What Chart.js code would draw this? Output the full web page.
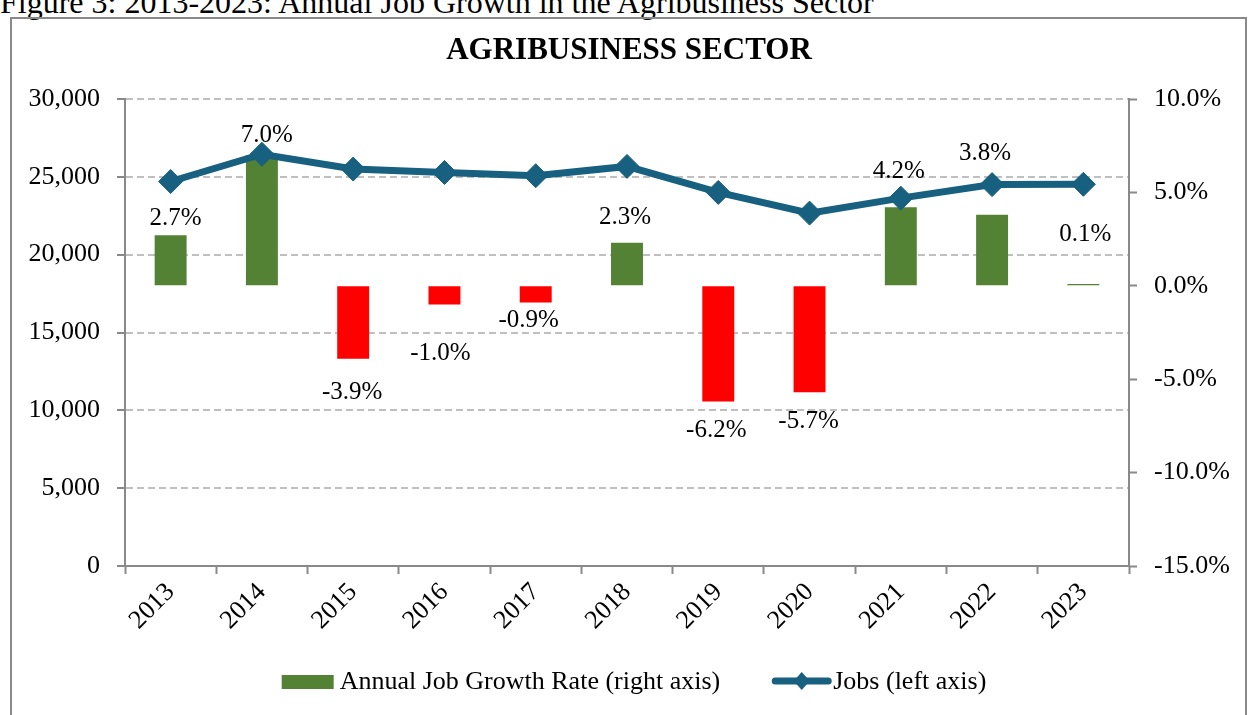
<!DOCTYPE html>
<html lang="en">
<head>
  <meta charset="UTF-8">
  <title>Agribusiness Sector</title>
  <script src="https://cdn.jsdelivr.net/npm/chart.js"></script>
  <style>
    html, body {
      margin: 0;
      padding: 0;
      background: #fff;
      overflow: hidden;
    }
    body {
      width: 1248px;
      height: 715px;
      position: relative;
      font-family: 'Liberation Serif', 'Times New Roman', serif;
    }
    #caption {
      position: absolute;
      left: 0;
      top: -14px;
      font-size: 32px;
      line-height: 32px;
      color: #000;
      white-space: nowrap;
    }
    #frame {
      position: absolute;
      left: 10px;
      top: 17px;
      width: 1237px;
      height: 730px;
      border: 2px solid #898989;
      box-sizing: border-box;
    }
    #chart {
      position: absolute;
      left: 0;
      top: 0;
    }
  </style>
</head>
<body>
  <div id="caption">Figure 3: 2013-2023: Annual Job Growth in the Agribusiness Sector</div>
  <div id="frame"></div>
  <canvas id="chart" width="1248" height="715"></canvas>

  <script>
    const years = ['2013', '2014', '2015', '2016', '2017', '2018', '2019', '2020', '2021', '2022', '2023'];
    const growthRate = [2.7, 7.0, -3.9, -1.0, -0.9, 2.3, -6.2, -5.7, 4.2, 3.8, 0.1];
    const jobs = [24700, 26450, 25500, 25280, 25070, 25670, 24000, 22670, 23630, 24500, 24520];

    // axis ranges
    const jobsMin = 0, jobsMax = 30000, jobsStep = 5000;
    const rateMin = -15, rateMax = 10, rateStep = 5;

    // hand placed label nudges (px), like the original
    const labelDx = [5, 5, -1, -4, -7, -2, -2, -1, -2, -7, 2];
    const labelDy = [-17, -20, 34, 49, 18, -25, 29, 29, -36, -61, -49];

    const serif = "'Liberation Serif', 'Times New Roman', serif";
    const green = '#548235';
    const red = '#ff0000';
    const blue = '#17607f';
    const axisGray = '#898989';

    const barLabels = {
      id: 'barLabels',
      afterDatasetDraw(chart, args) {
        if (args.index !== 0) return;
        const ctx = chart.ctx;
        ctx.save();
        ctx.font = '25px ' + serif;
        ctx.fillStyle = '#000';
        ctx.textAlign = 'center';
        ctx.textBaseline = 'middle';
        args.meta.data.forEach((bar, i) => {
          ctx.fillText(growthRate[i].toFixed(1) + '%', bar.x + labelDx[i], bar.y + labelDy[i]);
        });
        ctx.restore();
      }
    };

    const titleAndLegend = {
      id: 'titleAndLegend',
      afterDraw(chart) {
        const ctx = chart.ctx;
        ctx.save();
        ctx.fillStyle = '#000';
        ctx.textBaseline = 'middle';
        ctx.textAlign = 'center';
        ctx.font = 'bold 31px ' + serif;
        ctx.fillText('AGRIBUSINESS SECTOR', 629, 51);

        ctx.font = '26px ' + serif;
        ctx.textAlign = 'left';
        const t1 = chart.data.datasets[0].label;
        const t2 = chart.data.datasets[1].label;
        const w1 = ctx.measureText(t1).width;
        const w2 = ctx.measureText(t2).width;
        const total = 52 + 6 + w1 + 52 + 59 + 2 + w2;
        let x = 634 - total / 2;
        const y = 682;

        ctx.fillStyle = green;
        ctx.fillRect(x, y - 7, 52, 14);
        x += 58;
        ctx.fillStyle = '#000';
        ctx.fillText(t1, x, y);
        x += w1 + 52;

        ctx.strokeStyle = blue;
        ctx.lineWidth = 7;
        ctx.lineCap = 'round';
        ctx.beginPath();
        ctx.moveTo(x + 3, y - 1);
        ctx.lineTo(x + 56, y - 1);
        ctx.stroke();
        const cx = x + 29.5;
        ctx.fillStyle = blue;
        ctx.beginPath();
        ctx.moveTo(cx, y - 10);
        ctx.lineTo(cx + 8, y - 1);
        ctx.lineTo(cx, y + 8);
        ctx.lineTo(cx - 8, y - 1);
        ctx.closePath();
        ctx.fill();
        x += 61;
        ctx.fillStyle = '#000';
        ctx.fillText(t2, x, y);
        ctx.restore();
      }
    };

    new Chart(document.getElementById('chart'), {
      data: {
        labels: years,
        datasets: [
          {
            type: 'bar',
            label: 'Annual Job Growth Rate (right axis)',
            data: growthRate,
            yAxisID: 'y1',
            order: 1,
            backgroundColor: growthRate.map(v => v < 0 ? red : green),
            barPercentage: 0.35,
            categoryPercentage: 1.0
          },
          {
            type: 'line',
            label: 'Jobs (left axis)',
            data: jobs,
            yAxisID: 'y',
            order: 0,
            borderColor: blue,
            backgroundColor: blue,
            borderWidth: 7,
            tension: 0,
            pointStyle: 'rectRot',
            pointRadius: 12,
            pointBorderWidth: 1,
            pointBackgroundColor: blue,
            pointBorderColor: blue
          }
        ]
      },
      options: {
        responsive: false,
        animation: false,
        devicePixelRatio: 1,
        layout: { padding: { top: 99, left: 0, right: 0, bottom: 0 } },
        plugins: {
          legend: { display: false },
          title: { display: false },
          tooltip: { enabled: false }
        },
        scales: {
          x: {
            offset: true,
            afterFit(scale) { scale.height = 149; },
            grid: {
              offset: true,
              drawOnChartArea: false,
              drawTicks: true,
              tickLength: 8,
              tickColor: axisGray,
              tickWidth: 2
            },
            border: { display: true, color: axisGray, width: 2 },
            ticks: {
              color: '#000',
              font: { family: serif, size: 26 },
              maxRotation: 45,
              minRotation: 45,
              padding: 3,
              autoSkip: false
            }
          },
          y: {
            position: 'left',
            min: jobsMin,
            max: jobsMax,
            afterFit(scale) { scale.width = 125; },
            grid: {
              color: '#bfbfbf',
              lineWidth: 2,
              drawTicks: true,
              tickLength: 8,
              tickColor: axisGray,
              tickWidth: 2,
              tickBorderDash: []
            },
            border: { display: true, color: axisGray, width: 2, dash: [7, 4] },
            ticks: {
              stepSize: jobsStep,
              color: '#000',
              padding: 17,
              font: { family: serif, size: 26 },
              callback: v => v.toLocaleString('en-US')
            }
          },
          y1: {
            position: 'right',
            min: rateMin,
            max: rateMax,
            afterFit(scale) { scale.width = 119; },
            grid: {
              drawOnChartArea: false,
              drawTicks: true,
              tickLength: 8,
              tickColor: axisGray,
              tickWidth: 2
            },
            border: { display: true, color: axisGray, width: 2 },
            ticks: {
              stepSize: rateStep,
              color: '#000',
              padding: 17,
              font: { family: serif, size: 26 },
              callback: v => v.toFixed(1) + '%'
            }
          }
        }
      },
      plugins: [barLabels, titleAndLegend]
    });
  </script>
</body>
</html>
